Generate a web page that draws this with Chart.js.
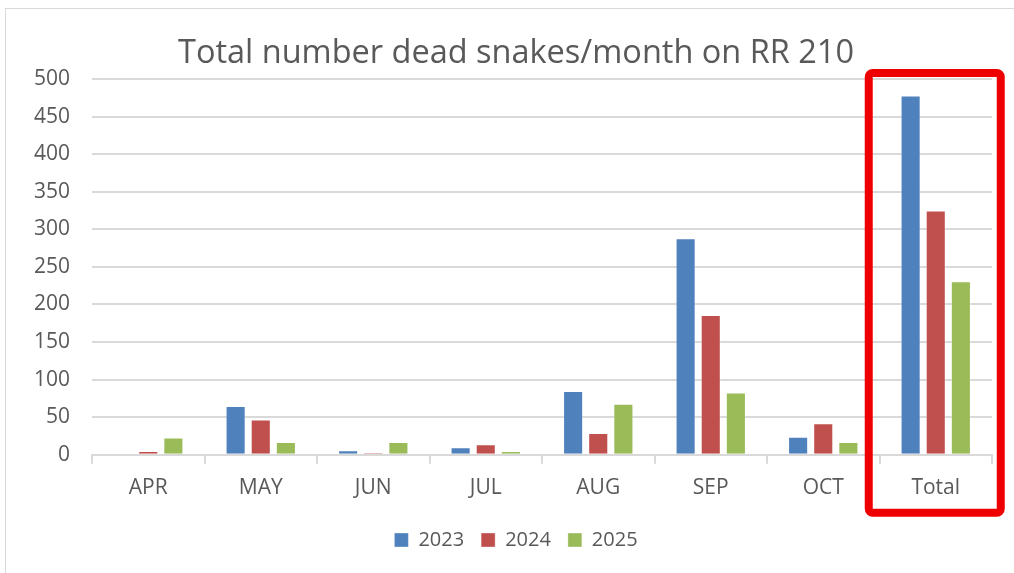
<!DOCTYPE html>
<html>
<head>
<meta charset="utf-8">
<script src="https://cdn.jsdelivr.net/npm/chart.js@4"></script>
<style>
  body { margin: 0; background: #ffffff; }
  #wrap { width: 1014px; height: 573px; }
</style>
</head>
<body>
<div id="wrap"><canvas id="myChart" width="1014" height="573"></canvas></div>
<script>
// months on RR 210, last column is the season total
const months = ["APR", "MAY", "JUN", "JUL", "AUG", "SEP", "OCT", "Total"];
const dead2023 = [0, 65, 6, 10, 85, 288, 24, 478];
const dead2024 = [5, 47, 3, 14, 29, 186, 42, 325];
const dead2025 = [23, 17, 17, 5, 68, 83, 17, 231];
const yTicks = [0, 50, 100, 150, 200, 250, 300, 350, 400, 450, 500];

const FONT = "'Open Sans', 'Liberation Sans', sans-serif";
const GREY_TEXT = "#595959";
const GRID = "#d9d9d9";

// outer chart frame + the red highlight box round "Total"
const decorations = {
    id: "decorations",
    afterLayout(chart) {
        // y labels hang out past the narrow axis box, don't clip them
        chart.scales.y.left = 0;
    },
    beforeDraw(chart) {
        const c = chart.ctx;
        c.save();
        c.fillStyle = "#ffffff";
        c.fillRect(0, 0, chart.width, chart.height);
        c.strokeStyle = "#d9d9d9";
        c.lineWidth = 1;
        c.strokeRect(5.5, 8.5, chart.width + 10, chart.height + 10);
        c.restore();
    },
    afterDraw(chart) {
        const c = chart.ctx;
        const x = chart.scales.x;
        const y = chart.scales.y;
        const cx = x.getPixelForValue(months.length - 1);
        const left = cx - 67, right = cx + 65;
        const top = y.getPixelForValue(500) - 6;
        const bottom = chart.chartArea.bottom + 58;
        c.save();
        c.strokeStyle = "#ee0000";
        c.lineWidth = 8;
        c.lineJoin = "round";
        c.beginPath();
        c.roundRect(left, top, right - left, bottom - top, 4);
        c.stroke();
        c.restore();
    }
};

function makeSet(label, values, colour) {
    return {
        label: label,
        data: values,
        backgroundColor: colour,
        borderColor: "rgba(255,255,255,0.35)",
        borderWidth: 1,
        barPercentage: 0.8,
        categoryPercentage: 0.67
    };
}

const ctx = document.getElementById("myChart").getContext("2d");
const chart = new Chart(ctx, {
    type: "bar",
    data: {
        labels: months,
        datasets: [
            makeSet("2023", dead2023, "#4f81bd"),
            makeSet("2024", dead2024, "#c0504d"),
            makeSet("2025", dead2025, "#9bbb59")
        ]
    },
    plugins: [decorations],
    options: {
        responsive: false,
        animation: false,
        layout: { padding: { left: 40, right: 22, top: 0, bottom: 13 } },
        plugins: {
            title: {
                display: true,
                text: "Total number dead snakes/month on RR 210",
                color: GREY_TEXT,
                font: { family: FONT, size: 32.5, weight: "normal", lineHeight: 1.2 },
                padding: { top: 34, bottom: 6 }
            },
            legend: {
                position: "bottom",
                labels: {
                    color: GREY_TEXT,
                    font: { family: FONT, size: 20 },
                    boxWidth: 14,
                    boxHeight: 14,
                    padding: 17
                }
            },
            tooltip: { enabled: false }
        },
        scales: {
            x: {
                grid: {
                    offset: true,
                    drawOnChartArea: false,
                    color: GRID,
                    lineWidth: 2,
                    tickLength: 9
                },
                border: { color: GRID, width: 2 },
                ticks: {
                    color: GREY_TEXT,
                    font: { family: FONT, size: 21 },
                    padding: 12
                }
            },
            y: {
                min: 0,
                max: 500,
                afterFit(scale) { scale.width = 52; },
                afterBuildTicks(scale) {
                    scale.ticks = yTicks.map(v => ({ value: v }));
                },
                grid: { color: GRID, lineWidth: 2, drawTicks: false },
                border: { display: false },
                ticks: {
                    color: GREY_TEXT,
                    font: { family: FONT, size: 21 },
                    padding: 22
                }
            }
        }
    }
});
</script>
</body>
</html>
